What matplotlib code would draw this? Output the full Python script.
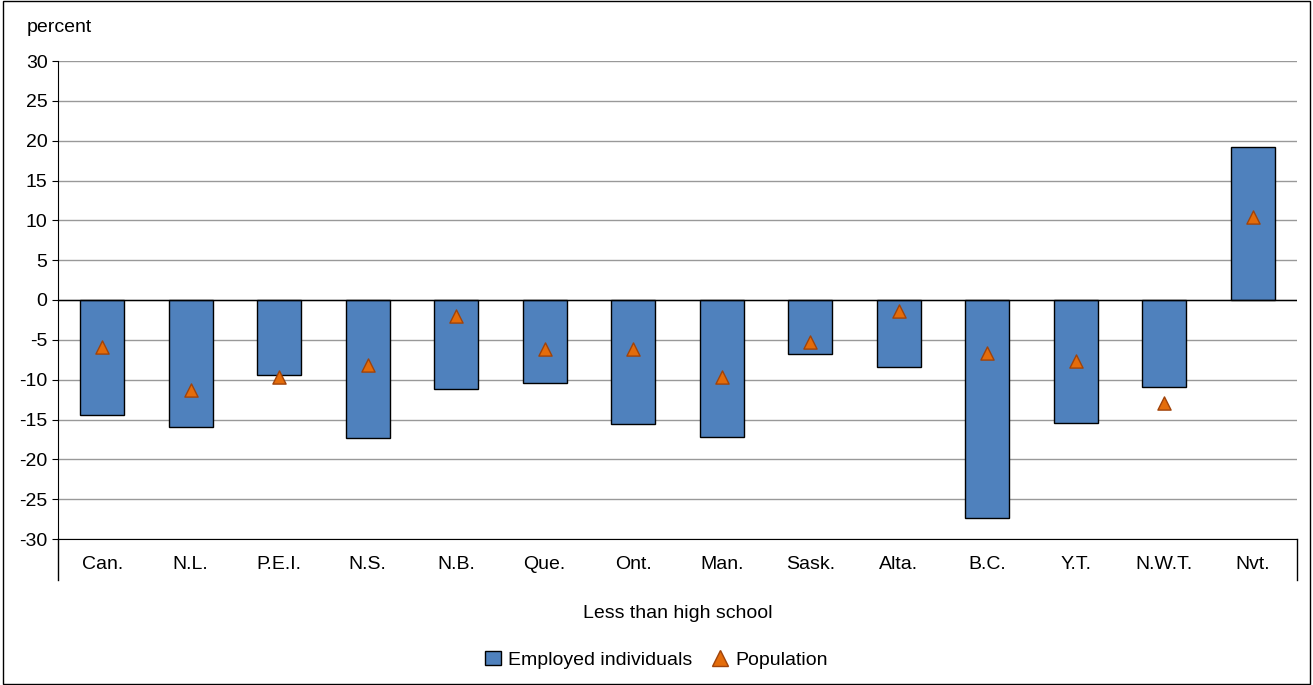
import matplotlib.pyplot as plt
import matplotlib.lines as mlines
import matplotlib.patches as mpatches
import numpy as np

regions = ['Can.', 'N.L.', 'P.E.I.', 'N.S.', 'N.B.', 'Que.', 'Ont.', 'Man.',
           'Sask.', 'Alta.', 'B.C.', 'Y.T.', 'N.W.T.', 'Nvt.']
employed = [-14.4, -15.9, -9.4, -17.3, -11.2, -10.4, -15.6, -17.2,
            -6.8, -8.4, -27.4, -15.4, -10.9, 19.2]
population = [-5.9, -11.3, -9.7, -8.2, -2.0, -6.1, -6.1, -9.7,
              -5.3, -1.4, -6.7, -7.7, -12.9, 10.4]

plt.rcParams['font.family'] = ['Liberation Sans', 'DejaVu Sans']
plt.rcParams['axes.unicode_minus'] = False
fig = plt.figure(figsize=(13.13, 6.85), dpi=100)
fig.add_artist(mpatches.Rectangle((0.002, 0.002), 0.996, 0.996, transform=fig.transFigure,
                                  fill=False, edgecolor='black', linewidth=1))
ax = fig.add_axes([58/1313, 1-539/685, (1297-58)/1313, 478/685])

x = np.arange(len(regions))
ax.bar(x, employed, width=0.5, color='#4F81BD', edgecolor='black', linewidth=1, zorder=3)
ax.scatter(x, population, marker='^', s=90, color='#E46C0A', edgecolors='#A0430A',
           linewidths=1, zorder=4)

ax.set_xlim(-0.5, len(regions) - 0.5)
ax.set_ylim(-30, 30)
ax.set_yticks(range(-30, 31, 5))
ax.yaxis.grid(True, color='#999999', linewidth=1)
ax.axhline(0, color='black', linewidth=1, zorder=3)
ax.set_xticks(x)
ax.set_xticklabels(regions)
ax.tick_params(axis='x', length=0, pad=12, labelsize=14)
ax.tick_params(axis='y', length=4, labelsize=14)
for s in ['top', 'right']:
    ax.spines[s].set_visible(False)
ax.set_axisbelow(True)

# category group lines
for xp in (58, 1297):
    fig.add_artist(mlines.Line2D([xp/1313, xp/1313], [1-539/685, 1-580/685],
                                 transform=fig.transFigure, color='black', linewidth=1))

fig.text(0.02, 1-28/685, 'percent', fontsize=14, va='center')
fig.text((58+1297)/2/1313, 1-613/685, 'Less than high school', fontsize=14,
         ha='center', va='center')

handles = [mpatches.Patch(facecolor='#4F81BD', edgecolor='black', label='Employed individuals'),
           mlines.Line2D([], [], marker='^', linestyle='none', markersize=11,
                         markerfacecolor='#E46C0A', markeredgecolor='#A0430A', label='Population')]
fig.legend(handles=handles, loc='center', bbox_to_anchor=(0.5, 1-660/685), ncol=2,
           frameon=False, fontsize=14, handlelength=0.8, handletextpad=0.4, columnspacing=1)

fig.savefig('out.png', dpi=100)
